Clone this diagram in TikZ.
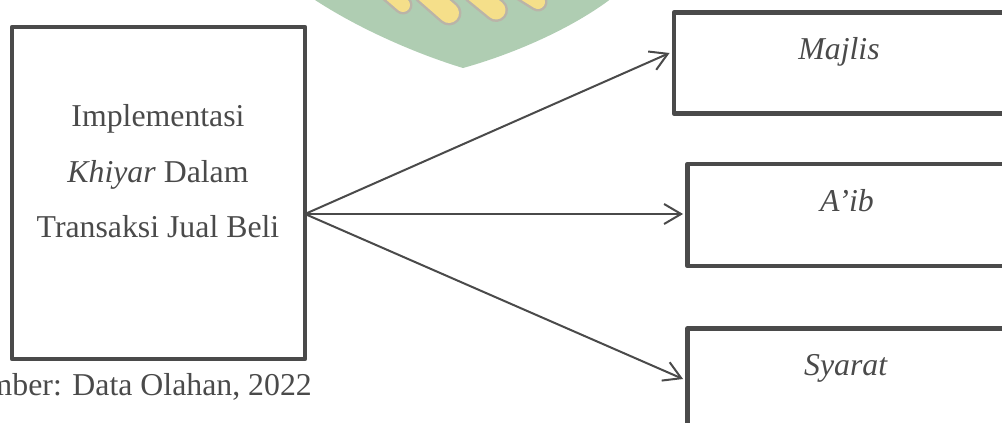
\documentclass[tikz,border=0pt]{standalone}
\usepackage{fontspec}
\setmainfont{Liberation Serif}
\usetikzlibrary{arrows.meta}
\definecolor{ink}{HTML}{4A4A4A}
\definecolor{sealgreen}{HTML}{AFCDB2}
\definecolor{sealyellow}{HTML}{F5DF8A}
\definecolor{sealedge}{HTML}{BAB4A8}

\begin{document}
\begin{tikzpicture}[x=1pt,y=-1pt,
  box/.style={draw=ink, line width=4.5pt, line join=round, inner sep=0pt},
  arr/.style={draw=ink, line width=2pt,
    -{Straight Barb[length=17pt,width=20pt,line width=2pt]}},
  txt/.style={text=ink, font=\fontsize{31.8}{40}\selectfont, inner sep=0pt},
  grain/.style={line cap=round, line width=#1}]
\useasboundingbox (0,0) rectangle (1002,423);
\clip (0,0) rectangle (1002,423);

% faint seal at the top edge
\fill[sealgreen] (312,-2) .. controls (360,30) and (420,55) .. (463,68)
  .. controls (510,55) and (570,30) .. (612,-2) -- cycle;
\foreach \a/\b/\w in {{388,-8}/{403,5}/14, {425,-8}/{449,13}/20,
                      {474,-8}/{496,10}/19, {522,-8}/{538,2}/14}{
  \draw[sealedge, grain=\w pt+5pt] (\a) -- (\b);
  \draw[sealyellow, grain=\w pt] (\a) -- (\b);
}

% source box and its text
\node[box, minimum width=293pt, minimum height=332pt] (src) at (158.5,193) {};
\node[txt, anchor=base] (src1) at (158,126) {Implementasi};
\node[txt, anchor=base] (src2) at (158,182) {\textit{Khiyar} Dalam};
\node[txt, anchor=base] (src3) at (158,237) {Transaksi Jual Beli};
\node[txt, anchor=base east] (cap) at (312,395) {mber: Data Olahan, 2022};

% target boxes (running past the right edge)
\node[box, minimum width=400pt, minimum height=101pt] (majlis) at (874,63) {};
\node[box, minimum width=400pt, minimum height=102pt] (aib) at (887.5,215) {};
\node[box, minimum width=400pt, minimum height=102pt] (syarat) at (887.5,379.5) {};
\node[txt, anchor=base] (majlist) at (839,59) {\textit{Majlis}};
\node[txt, anchor=base] (aibt) at (847,211) {\textit{A’ib}};
\node[txt, anchor=base] (syaratt) at (846,375) {\textit{Syarat}};

% connectors
\coordinate (hub) at (305,214);
\draw[arr] (hub) -- ([xshift=-2.2pt,yshift=10pt]majlis.west);
\draw[arr] (hub) -- ([xshift=-2.2pt,yshift=1pt]aib.west);
\draw[arr] (hub) -- ([xshift=-2.2pt,yshift=0.5pt]syarat.west);
\end{tikzpicture}
\end{document}
